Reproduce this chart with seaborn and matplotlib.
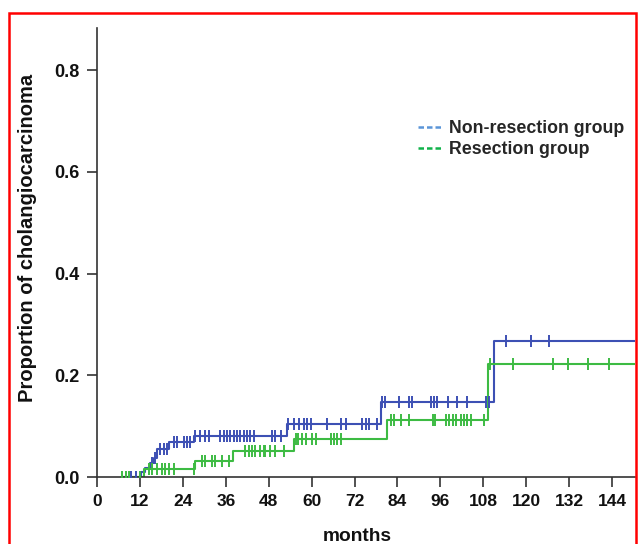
import numpy as np
import pandas as pd
import matplotlib
matplotlib.use("Agg")
import matplotlib.pyplot as plt
from matplotlib.lines import Line2D
from matplotlib.patches import Rectangle
import seaborn as sns

# ---- data ----
x_max = 150.4
nonres_times = [0, 12.2, 13.4, 14.8, 15.8, 16.8, 20, 27, 53, 79.5, 111]
nonres_vals = [0, 0.009, 0.018, 0.028, 0.038, 0.055, 0.068, 0.081, 0.105, 0.147, 0.268]
nonres_censor = [9.5, 10.8, 15.3, 16.3, 17.6, 18.6, 19.5, 21.4, 22.3, 24.2, 25.1, 26,
                 27.5, 28.9, 30.3, 31.2, 34.5, 35.4, 36.3, 37.3, 38.2, 39.1, 40, 41,
                 41.9, 42.9, 43.8, 48.9, 49.9, 51.3, 53.5, 55, 56.4, 57.8, 58.7, 59.7,
                 64.3, 68.1, 69.5, 74.1, 75.1, 76, 78.3, 79.8, 80.5, 84.4, 87.2, 88.1,
                 93.3, 94.2, 95.1, 98.2, 100.5, 103.3, 108.7, 109.6, 114.3, 121.3, 126.4]

res_times = [0, 13, 27.5, 38, 55, 81, 109.3]
res_vals = [0, 0.015, 0.031, 0.051, 0.074, 0.112, 0.222]
res_censor = [7, 8, 9, 12, 14.4, 15.3, 16.7, 18.1, 19, 20, 21.4, 27, 29.3, 30.3,
              32.1, 33.1, 34.9, 36.8, 41.5, 42.4, 43.3, 44.3, 45.7, 46.6, 47.1, 48.5,
              49.9, 52.2, 55.5, 56.2, 57.3, 58.3, 60.1, 61.1, 65.3, 66.2, 67.1, 68.1,
              82.1, 83, 84.9, 87.2, 93.8, 94.4, 97.5, 98.4, 99.4, 100.3, 101.7, 102.6,
              103.5, 104.5, 108.2, 109.8, 116.2, 127.4, 131.6, 137.2, 143.2]

start_times = {"Non-resection group": 7.0, "Resection group": 7.0}
group_labels = ["Non-resection group", "Resection group"]
x_ticks = list(range(0, 145, 12))
y_ticks = [0.0, 0.2, 0.4, 0.6, 0.8]

line_colors = ["#3d50b4", "#3dbb43"]
legend_colors = ["#5b95d8", "#10b24a"]


def step_frame(times, vals, start):
    t = [start] + list(times[1:]) + [x_max]
    v = [vals[0]] + list(vals[1:]) + [vals[-1]]
    return pd.DataFrame({"t": t, "v": v})


def censor_frame(times, vals, cens):
    idx = np.searchsorted(np.array(times), np.array(cens), side="right") - 1
    return pd.DataFrame({"t": cens, "v": np.array(vals)[idx]})


sns.set_style("ticks")
plt.rcParams["font.family"] = ["Liberation Sans", "DejaVu Sans"]
plt.rcParams["font.weight"] = "bold"

fig = plt.figure(figsize=(6.38, 5.44), dpi=100)
ax = fig.add_axes([97 / 638, 67 / 544, 538 / 638, 449 / 544])

series = [(nonres_times, nonres_vals, nonres_censor), (res_times, res_vals, res_censor)]
for (times, vals, cens), name, col in zip(series, group_labels, line_colors):
    sf = step_frame(times, vals, start_times[name])
    sns.lineplot(data=sf, x="t", y="v", ax=ax, color=col, lw=1.5,
                 drawstyle="steps-post", sort=False, estimator=None, legend=False)
    cf = censor_frame(times, vals, cens)
    sns.scatterplot(data=cf, x="t", y="v", ax=ax, color=col, marker="|",
                    s=80, linewidth=1.4, legend=False, zorder=3)

ax.set_xlim(0, x_max)
ax.set_ylim(0, 0.8826)
ax.set_xticks(x_ticks)
ax.set_yticks(y_ticks)
ax.set_yticklabels([f"{v:.1f}" for v in y_ticks], fontsize=13, fontweight="bold")
ax.set_xticklabels([str(v) for v in x_ticks], fontsize=12.5, fontweight="bold")
ax.tick_params(axis="both", direction="out", length=7.5, width=1.2, colors="#333333",
               labelcolor="#111111")
ax.tick_params(axis="y", pad=5)
ax.tick_params(axis="x", pad=5)
for s in ["top", "right"]:
    ax.spines[s].set_visible(False)
for s in ["left", "bottom"]:
    ax.spines[s].set_color("#333333")
    ax.spines[s].set_linewidth(1.2)

ax.set_xlabel("months", fontsize=13.8, fontweight="bold", color="#111111")
ax.set_ylabel("Proportion of cholangiocarcinoma", fontsize=14.5, fontweight="bold",
              color="#111111")
ax.xaxis.set_label_coords(0.483, -0.114)
ax.yaxis.set_label_coords(-0.112, 0.532)

handles = [Line2D([0], [0], color=c, lw=1.8, ls=(0, (2.2, 1.2))) for c in legend_colors]
ax.legend(handles, group_labels, loc="center left", bbox_to_anchor=(0.5965, 0.753),
          frameon=False, handlelength=1.3, handletextpad=0.45,
          borderpad=0, borderaxespad=0, labelspacing=0.22,
          prop={"weight": "bold", "size": 12.8})

fig.patches.append(Rectangle((9 / 638, -0.02), 627 / 638, (531 / 544) + 0.02,
                             transform=fig.transFigure, fill=False,
                             edgecolor="#ff0000", lw=1.8, zorder=10))

fig.savefig("out.png", dpi=100, facecolor="white")
